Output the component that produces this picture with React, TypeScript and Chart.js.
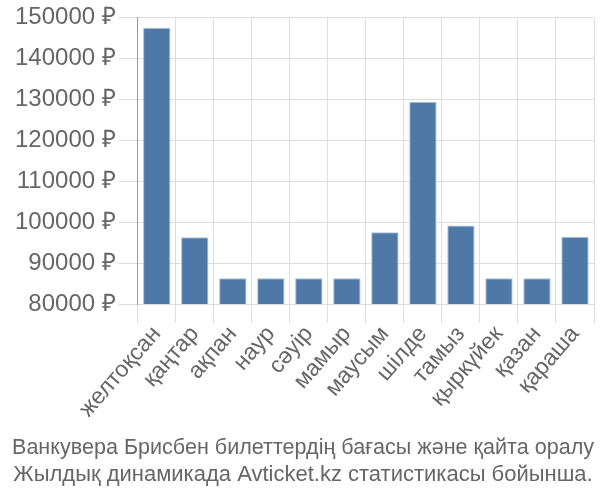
import React, { useEffect, useRef } from "react";
import { Chart, registerables } from "chart.js";

Chart.register(...registerables);

const months = ["желтоқсан", "қаңтар", "ақпан", "наур", "сәуір", "мамыр", "маусым", "шілде", "тамыз", "қыркүйек", "қазан", "қараша"];
const prices = [147500, 96300, 86300, 86300, 86300, 86300, 97500, 129400, 99200, 86300, 86300, 96400];
const titleLines = ["Ванкувера Брисбен билеттердің бағасы және қайта оралу", "Жылдық динамикада Avticket.kz статистикасы бойынша."];
const yMin = 80000;
const yMax = 150000;
const yStep = 10000;

export default function App() {
  const ref = useRef<HTMLCanvasElement>(null);
  useEffect(() => {
    if (!ref.current) return;
    const chart = new Chart(ref.current, {
      type: "bar",
      data: {
        labels: months,
        datasets: [
          {
            data: prices,
            backgroundColor: "#4e79a7",
            borderColor: "#a9bfd6",
            borderWidth: 1,
          },
        ],
      },
      options: {
        animation: false,
        responsive: false,
        maintainAspectRatio: false,
        layout: { padding: { left: 12, right: 6, top: 2, bottom: 0 } },
        plugins: {
          legend: { display: false },
          tooltip: { enabled: false },
          title: {
            display: true,
            position: "bottom",
            text: titleLines,
            color: "#666",
            font: { family: "'Liberation Sans', Arial, sans-serif", size: 22, weight: "normal", lineHeight: 1.25 },
            padding: { top: 17, bottom: 11 },
          },
        },
        scales: {
          x: {
            grid: { color: "#ddd", tickLength: 19, drawOnChartArea: true, offset: true },
            border: { color: "#ddd" },
            afterFit: (s: any) => {
              s.height = 113;
            },
            ticks: {
              color: "#666",
              autoSkip: false,
              minRotation: 49,
              maxRotation: 49,
              font: { family: "'Liberation Sans', Arial, sans-serif", size: 23 },
              padding: -2,
            },
          },
          y: {
            min: yMin,
            max: yMax,
            grid: { color: "#ddd", tickLength: 19 },
            border: { color: "#999" },
            ticks: {
              stepSize: yStep,
              color: "#666",
              font: { family: "'Liberation Sans', Arial, sans-serif", size: 24 },
              padding: 3,
              callback: (v: any) => v + " ₽",
            },
          },
        },
      },
    });
    return () => chart.destroy();
  }, []);
  return (
    <div style={{ position: "fixed", left: 0, top: 0, width: 600, height: 500, background: "#fff" }}>
      <canvas ref={ref} width={600} height={500} />
    </div>
  );
}
